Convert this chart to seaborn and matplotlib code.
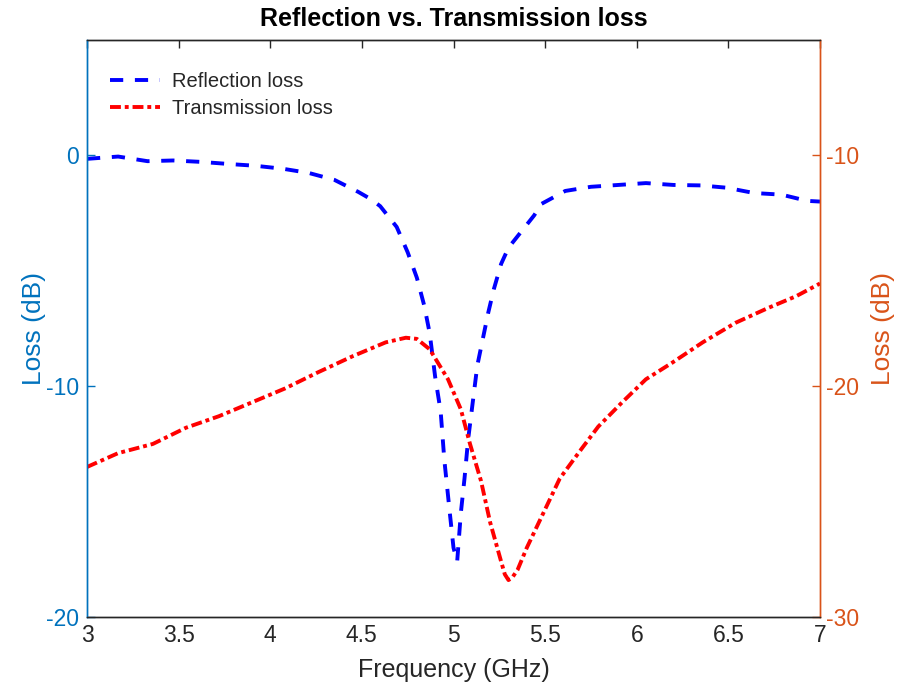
import numpy as np
import pandas as pd
import seaborn as sns
import matplotlib
matplotlib.use("Agg")
import matplotlib.pyplot as plt

# Frequency sweep (GHz) and measured losses (dB)
refl_freq = [3.00, 3.17, 3.33, 3.47, 3.62, 3.77, 3.92, 4.07, 4.21, 4.35, 4.48, 4.55,
             4.60, 4.69, 4.75, 4.80, 4.84, 4.87, 4.90, 4.93, 4.95, 4.98, 5.00,
             5.02, 5.04, 5.06, 5.08, 5.13, 5.19, 5.22, 5.26, 5.30, 5.35, 5.44, 5.48, 5.61,
             5.75, 5.90, 6.05, 6.20, 6.35, 6.49, 6.64, 6.79, 6.93, 7.00]
refl_loss = [-0.15, -0.05, -0.25, -0.22, -0.28, -0.37, -0.45, -0.58, -0.76, -1.06, -1.58, -1.9,
             -2.2, -3.1, -4.2, -5.3, -6.5, -7.7, -9.6, -11.1, -13.2, -15.5, -17.0,
             -17.6, -15.5, -14.0, -12.3, -9.1, -6.8, -5.8, -4.7, -4.0, -3.5, -2.6, -2.1, -1.54,
             -1.36, -1.28, -1.2, -1.28, -1.3, -1.4, -1.63, -1.7, -1.97, -2.0]

trans_freq = [3.00, 3.17, 3.36, 3.54, 3.72, 3.90, 4.08, 4.26, 4.45, 4.63, 4.74,
              4.80, 4.87, 4.97, 5.04, 5.09, 5.15, 5.20, 5.26, 5.28, 5.30, 5.32, 5.35, 5.40,
              5.49, 5.58, 5.70, 5.79, 5.92, 6.05, 6.19, 6.36, 6.54, 6.72, 6.87, 7.00]
trans_loss = [-23.5, -22.9, -22.5, -21.8, -21.3, -20.7, -20.1, -19.4, -18.7, -18.1, -17.9,
              -17.95, -18.4, -19.7, -21.0, -22.5, -24.1, -25.9, -27.6, -28.15, -28.4, -28.3, -27.95, -27.0,
              -25.5, -24.0, -22.7, -21.75, -20.7, -19.7, -19.0, -18.1, -17.25, -16.6, -16.1, -15.55]

x_ticks = [3, 3.5, 4, 4.5, 5, 5.5, 6, 6.5, 7]
x_tick_labels = ["3", "3.5", "4", "4.5", "5", "5.5", "6", "6.5", "7"]
left_ticks = [-20, -10, 0]
left_tick_labels = ["-20", "-10", "0"]
right_ticks = [-30, -20, -10]
right_tick_labels = ["-30", "-20", "-10"]

sns.set_theme(style="white")
plt.rcParams["font.family"] = ["Liberation Sans", "DejaVu Sans"]
plt.rcParams["axes.unicode_minus"] = False

LEFT_C = "#0072BD"
RIGHT_C = "#D95319"
FRAME_C = "#262626"

refl = pd.DataFrame({"Frequency": refl_freq, "Loss": refl_loss})
trans = pd.DataFrame({"Frequency": trans_freq, "Loss": trans_loss})

fig = plt.figure(figsize=(9.1, 6.91), dpi=100)
ax = fig.add_axes([87 / 910, 1 - 617 / 691, (820 - 87) / 910, (617 - 40) / 691])
ax2 = ax.twinx()

sns.lineplot(data=refl, x="Frequency", y="Loss", ax=ax, color="#0000FF",
             linewidth=2.8, estimator=None, sort=False, legend=False)
ax.lines[0].set_dashes((3.4, 3.0))
ax.lines[0].set_solid_joinstyle("round")
sns.lineplot(data=trans, x="Frequency", y="Loss", ax=ax2, color="#FF0000",
             linewidth=2.8, estimator=None, sort=False, legend=False)
ax2.lines[0].set_dashes((2.8, 1.0, 1.0, 1.0))

ax.set_xlim(3, 7)
ax.set_ylim(-20, 5)
ax2.set_ylim(-30, -5)

ax.set_xticks(x_ticks)
ax.set_xticklabels(x_tick_labels)
ax.set_yticks(left_ticks)
ax.set_yticklabels(left_tick_labels)
ax2.set_yticks(right_ticks)
ax2.set_yticklabels(right_tick_labels)

ax.tick_params(axis="x", direction="in", length=6, width=1, colors=FRAME_C,
               labelsize=16.5, top=True, pad=5)
ax.tick_params(axis="y", direction="in", length=6, width=1, colors=LEFT_C,
               labelcolor=LEFT_C, labelsize=16.5, pad=6)
ax2.tick_params(axis="y", direction="in", length=6, width=1, colors=RIGHT_C,
                labelcolor=RIGHT_C, labelsize=16.5, pad=4)
ax2.tick_params(axis="x", top=False, bottom=False)

for a in (ax, ax2):
    a.spines["top"].set_color(FRAME_C)
    a.spines["bottom"].set_color(FRAME_C)
    a.spines["left"].set_color(LEFT_C)
    a.spines["right"].set_color(RIGHT_C)
    for s in a.spines.values():
        s.set_linewidth(1.0)
        s.set_visible(True)

ax.set_xlabel("Frequency (GHz)", fontsize=18, color=FRAME_C, labelpad=8)
ax.set_ylabel("Loss (dB)", fontsize=19, color=LEFT_C, labelpad=0)
ax2.set_ylabel("Loss (dB)", fontsize=19, color=RIGHT_C, rotation=90, labelpad=9)
ax.set_title("Reflection vs. Transmission loss", fontsize=18, fontweight="bold",
             color="black", pad=10)

handles = [ax.lines[0], ax2.lines[0]]
ax2.legend(handles=handles, labels=["Reflection loss", "Transmission loss"],
           loc="upper left", frameon=False, fontsize=14.5, handlelength=2.5,
           handletextpad=0.55, labelspacing=0.4, borderaxespad=0.0,
           bbox_to_anchor=(0.0205, 0.958))

fig.savefig("out.png", dpi=100)
